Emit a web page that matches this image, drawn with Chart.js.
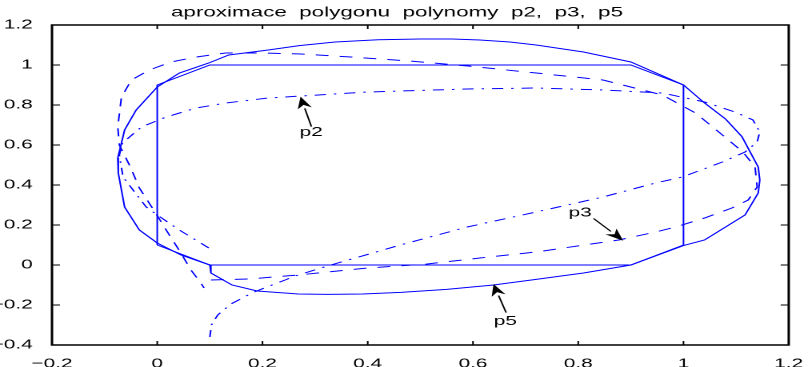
<!DOCTYPE html>
<html>
<head>
<meta charset="utf-8">
<script src="https://cdn.jsdelivr.net/npm/chart.js@4/dist/chart.umd.min.js"></script>
<style>
  html, body { margin: 0; padding: 0; background: #fff; overflow: hidden; }
  #wrap { position: absolute; left: 0; top: 0; width: 505px; height: 367px; transform: scaleX(1.6); transform-origin: 0 0; }
  canvas { display: block; }
</style>
</head>
<body>
<div id="wrap"><canvas id="c" width="505" height="367" style="width:505px;height:367px"></canvas></div>
<script>
// ---- data ----
const titleText = 'aproximace  polygonu  polynomy  p2,  p3,  p5';
const xTickLabels = ['\u22120.2', '0', '0.2', '0.4', '0.6', '0.8', '1', '1.2'];
const yTickLabels = ['\u22120.4', '\u22120.2', '0', '0.2', '0.4', '0.6', '0.8', '1', '1.2'];

const polygonX = [0, 0, 0.1, 0.9, 1, 1, 0.9, 0.1, 0];
const polygonY = [0.1, 0.9, 1, 1, 0.9, 0.1, 0, 0, 0.1];

const p2X = [0.1, 0.103, 0.115, 0.14, 0.18, 0.21, 0.243, 0.262, 0.33, 0.462, 0.589, 0.72, 0.847, 0.947, 0.998, 1.074, 1.117, 1.14, 1.145, 1.132, 1.098, 1.04, 0.96, 0.847, 0.72, 0.589, 0.4, 0.211, 0.13, 0.074, 0.017, -0.03, -0.066, -0.072, -0.065, -0.021, 0.0, 0.042, 0.098];
const p2Y = [-0.36, -0.3, -0.25, -0.195, -0.14, -0.108, -0.075, -0.055, 0.0, 0.1, 0.19, 0.265, 0.34, 0.41, 0.44, 0.515, 0.565, 0.615, 0.665, 0.725, 0.765, 0.815, 0.86, 0.875, 0.885, 0.88, 0.865, 0.835, 0.81, 0.785, 0.74, 0.69, 0.61, 0.55, 0.44, 0.29, 0.25, 0.175, 0.085];

const p3X = [0.102, 0.174, 0.268, 0.4, 0.513, 0.613, 0.72, 0.877, 0.947, 0.985, 1.04, 1.092, 1.123, 1.14, 1.136, 1.113, 1.074, 1.023, 0.96, 0.847, 0.72, 0.59, 0.48, 0.368, 0.274, 0.2, 0.13, 0.074, 0.026, -0.015, -0.049, -0.068, -0.075, -0.072, -0.051, -0.034, -0.003, 0.023, 0.045, 0.064, 0.083, 0.089];
const p3Y = [-0.075, -0.07, -0.05, -0.015, 0.005, 0.035, 0.065, 0.125, 0.165, 0.19, 0.235, 0.285, 0.325, 0.39, 0.49, 0.565, 0.65, 0.76, 0.85, 0.925, 0.96, 0.995, 1.02, 1.04, 1.055, 1.06, 1.06, 1.04, 1.015, 0.975, 0.925, 0.84, 0.69, 0.6, 0.49, 0.385, 0.26, 0.15, 0.06, -0.025, -0.09, -0.115];

const p5X = [0.1, 0.102, 0.142, 0.19, 0.268, 0.325, 0.39, 0.463, 0.55, 0.639, 0.72, 0.81, 0.9, 1.0, 1.04, 1.117, 1.142, 1.145, 1.142, 1.111, 1.08, 1.04, 1.0, 0.9, 0.81, 0.72, 0.67, 0.613, 0.56, 0.5, 0.42, 0.338, 0.27, 0.211, 0.136, 0.098, 0.042, 0.0, -0.04, -0.062, -0.075, -0.074, -0.062, -0.034, 0.0, 0.045, 0.1];
const p5Y = [0.0, -0.04, -0.1, -0.13, -0.145, -0.147, -0.145, -0.137, -0.122, -0.1, -0.072, -0.04, 0.0, 0.097, 0.125, 0.25, 0.36, 0.425, 0.49, 0.642, 0.73, 0.81, 0.9, 1.015, 1.065, 1.10, 1.115, 1.125, 1.13, 1.13, 1.126, 1.115, 1.097, 1.075, 1.05, 1.01, 0.96, 0.89, 0.775, 0.675, 0.535, 0.46, 0.29, 0.175, 0.11, 0.05, 0.0];

// annotations (data coordinates)
const annotLabels = ['p2', 'p3', 'p5'];
const annotTextX = [0.2925, 0.8038, 0.6617];
const annotTextY = [0.645, 0.2435, -0.30];
const arrowTailX = [0.293, 0.829, 0.663];
const arrowTailY = [0.692, 0.233, -0.238];
const arrowTipX = [0.2723, 0.8855, 0.639];
const arrowTipY = [0.8417, 0.1215, -0.095];

// ---- build ----
const toPts = (xs, ys) => xs.map((x, i) => ({ x: x, y: ys[i] }));
const BLUE = 'rgb(0,0,255)';
const FONT = "'Liberation Sans', Arial, Helvetica, sans-serif";

const boxTicksPlugin = {
  id: 'boxTicks',
  afterDraw(chart) {
    const { ctx, chartArea: a } = chart;
    const xs = chart.scales.x, ys = chart.scales.y;
    ctx.save();
    ctx.strokeStyle = '#000';
    ctx.lineWidth = 1;
    xs.ticks.forEach(t => {
      const px = xs.getPixelForValue(t.value);
      ctx.beginPath();
      ctx.moveTo(px, a.bottom); ctx.lineTo(px, a.bottom - 4);
      ctx.moveTo(px, a.top); ctx.lineTo(px, a.top + 4);
      ctx.stroke();
    });
    ys.ticks.forEach(t => {
      const py = ys.getPixelForValue(t.value);
      ctx.beginPath();
      ctx.moveTo(a.left, py); ctx.lineTo(a.left + 5, py);
      ctx.moveTo(a.right, py); ctx.lineTo(a.right - 5, py);
      ctx.stroke();
    });
    ctx.lineWidth = 1.5;
    ctx.strokeRect(a.left, a.top, a.right - a.left, a.bottom - a.top);
    ctx.restore();
  }
};

const annotPlugin = {
  id: 'annots',
  afterDatasetsDraw(chart) {
    const { ctx } = chart;
    const xs = chart.scales.x, ys = chart.scales.y;
    ctx.save();
    ctx.fillStyle = '#000';
    ctx.strokeStyle = '#000';
    ctx.lineWidth = 1;
    ctx.font = '13px ' + FONT;
    ctx.textAlign = 'center';
    ctx.textBaseline = 'alphabetic';
    annotLabels.forEach((lab, i) => {
      const tx = xs.getPixelForValue(arrowTailX[i]), ty = ys.getPixelForValue(arrowTailY[i]);
      const hx = xs.getPixelForValue(arrowTipX[i]), hy = ys.getPixelForValue(arrowTipY[i]);
      const ang = Math.atan2(hy - ty, hx - tx);
      const L = 12, W = 4.5;
      const bx = hx - L * Math.cos(ang), by = hy - L * Math.sin(ang);
      ctx.beginPath();
      ctx.moveTo(tx, ty); ctx.lineTo(bx, by);
      ctx.stroke();
      ctx.beginPath();
      ctx.moveTo(hx, hy);
      ctx.lineTo(bx + W * Math.sin(ang), by - W * Math.cos(ang));
      ctx.lineTo(hx - 0.7 * L * Math.cos(ang), hy - 0.7 * L * Math.sin(ang));
      ctx.lineTo(bx - W * Math.sin(ang), by + W * Math.cos(ang));
      ctx.closePath();
      ctx.fill();
      ctx.fillText(lab, xs.getPixelForValue(annotTextX[i]), ys.getPixelForValue(annotTextY[i]));
    });
    ctx.restore();
  }
};

const lineDs = (label, xs, ys, dash) => ({
  label: label,
  data: toPts(xs, ys),
  showLine: true,
  borderColor: BLUE,
  backgroundColor: BLUE,
  borderWidth: 1,
  borderDash: dash,
  pointRadius: 0,
  pointHoverRadius: 0,
  fill: false,
  tension: 0
});

Chart.defaults.font.family = FONT;
Chart.defaults.color = '#000';

new Chart(document.getElementById('c'), {
  type: 'scatter',
  data: {
    datasets: [
      lineDs('polygon', polygonX, polygonY, []),
      lineDs('p2', p2X, p2Y, [7, 5, 1.5, 5]),
      lineDs('p3', p3X, p3Y, [8, 7]),
      lineDs('p5', p5X, p5Y, [])
    ]
  },
  options: {
    responsive: false,
    animation: false,
    devicePixelRatio: 2,
    layout: { padding: { left: 0, right: 8.75, top: 0, bottom: 0 } },
    plugins: {
      legend: { display: false },
      tooltip: { enabled: false },
      title: {
        display: true,
        text: titleText,
        color: '#000',
        font: { size: 14, weight: 'normal', family: FONT },
        padding: { top: 4, bottom: 4.2 }
      }
    },
    scales: {
      x: {
        type: 'linear',
        position: 'bottom',
        min: -0.2, max: 1.2,
        grid: { display: false },
        border: { display: false },
        ticks: {
          stepSize: 0.2,
          autoSkip: false,
          maxRotation: 0,
          padding: 3,
          font: { size: 13 },
          color: '#000',
          callback: (v, i) => xTickLabels[i]
        },
        afterFit: s => { s.height = 22; }
      },
      y: {
        type: 'linear',
        position: 'left',
        min: -0.4, max: 1.2,
        grid: { display: false },
        border: { display: false },
        ticks: {
          stepSize: 0.2,
          autoSkip: false,
          padding: 4,
          font: { size: 13 },
          color: '#000',
          callback: (v, i) => yTickLabels[i]
        },
        afterFit: s => { s.width = 32.5; }
      }
    }
  },
  plugins: [boxTicksPlugin, annotPlugin]
});
</script>
</body>
</html>
